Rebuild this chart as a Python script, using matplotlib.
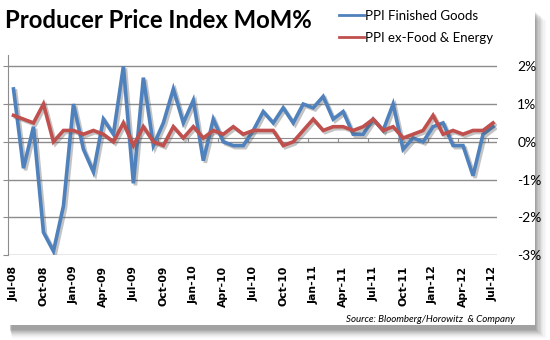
import matplotlib.pyplot as plt
import matplotlib.patheffects as pe
from matplotlib.patches import Rectangle
from matplotlib.lines import Line2D

months = ['Jul-08', 'Aug-08', 'Sep-08', 'Oct-08', 'Nov-08', 'Dec-08',
          'Jan-09', 'Feb-09', 'Mar-09', 'Apr-09', 'May-09', 'Jun-09',
          'Jul-09', 'Aug-09', 'Sep-09', 'Oct-09', 'Nov-09', 'Dec-09',
          'Jan-10', 'Feb-10', 'Mar-10', 'Apr-10', 'May-10', 'Jun-10',
          'Jul-10', 'Aug-10', 'Sep-10', 'Oct-10', 'Nov-10', 'Dec-10',
          'Jan-11', 'Feb-11', 'Mar-11', 'Apr-11', 'May-11', 'Jun-11',
          'Jul-11', 'Aug-11', 'Sep-11', 'Oct-11', 'Nov-11', 'Dec-11',
          'Jan-12', 'Feb-12', 'Mar-12', 'Apr-12', 'May-12', 'Jun-12',
          'Jul-12']

ppi_finished = [1.4, -0.7, 0.4, -2.4, -2.9, -1.7,
                1.0, -0.2, -0.8, 0.6, 0.2, 2.0,
                -1.1, 1.7, -0.1, 0.5, 1.4, 0.5,
                1.1, -0.5, 0.6, 0.0, -0.1, -0.1,
                0.3, 0.8, 0.5, 0.9, 0.5, 1.0,
                0.9, 1.2, 0.6, 0.8, 0.2, 0.2,
                0.6, 0.3, 1.0, -0.2, 0.1, 0.0,
                0.4, 0.5, -0.1, -0.1, -0.9, 0.2,
                0.4]

ppi_core = [0.7, 0.6, 0.5, 1.0, 0.0, 0.3,
            0.3, 0.2, 0.3, 0.2, 0.0, 0.5,
            -0.1, 0.4, 0.0, -0.1, 0.4, 0.1,
            0.4, 0.1, 0.3, 0.2, 0.4, 0.2,
            0.3, 0.3, 0.3, -0.1, 0.0, 0.3,
            0.6, 0.3, 0.4, 0.4, 0.3, 0.4,
            0.6, 0.3, 0.4, 0.1, 0.2, 0.3,
            0.7, 0.2, 0.3, 0.2, 0.3, 0.3,
            0.5]

y_ticks = [-3, -2, -1, 0, 1, 2]
y_labels = ['-3%', '-2%', '-1%', '0%', '1%', '2%']

blue = '#4F81BD'
red = '#C0504D'

fig = plt.figure(figsize=(5.5, 3.4), dpi=100)
fig.patch.set_facecolor('white')

# soft drop shadow around the chart area
for k, a in enumerate([0.10, 0.10, 0.09, 0.08, 0.07, 0.05, 0.04, 0.03, 0.02, 0.01]):
    fig.patches.append(Rectangle((10 / 550 + k * 0.0004, (10 - k) / 340),
                                 (526 + k) / 550, 318 / 340,
                                 transform=fig.transFigure, facecolor='#404040',
                                 alpha=a, edgecolor='none', zorder=0))
fig.patches.append(Rectangle((0, 15 / 340), 535 / 550, 325 / 340,
                             transform=fig.transFigure, facecolor='white',
                             edgecolor='none', zorder=1))

ax = fig.add_axes([7.5 / 550, 1 - 255 / 340, (497 - 7.5) / 550, 200 / 340])
ax.set_facecolor('none')
ax.set_zorder(2)

x = list(range(len(months)))
shadow = [pe.SimpleLineShadow(offset=(1.5, -1.5), shadow_color='#555555', alpha=0.35),
          pe.Normal()]
ax.plot(x, ppi_finished, color=blue, lw=2.6, solid_joinstyle='miter',
        path_effects=shadow, zorder=4)
ax.plot(x, ppi_core, color=red, lw=2.6, solid_joinstyle='miter',
        path_effects=shadow, zorder=5)

ax.set_xlim(-0.6, 48.4)
ax.set_ylim(-3, 2.3)

for yv in y_ticks:
    ax.axhline(yv, color='#8c8c8c', lw=1, zorder=1)

ax.set_yticks(y_ticks)
ax.set_yticklabels(y_labels, fontfamily='Lato', fontsize=10)
ax.tick_params(axis='y', left=True, right=False, labelleft=False, labelright=True,
               direction='out', length=3.5, color='#8c8c8c', pad=11)

# category axis sits just above the zero line, ticks every quarter
ax.spines['bottom'].set_position(('data', 0.1))
ax.spines['bottom'].set_color('#8c8c8c')
ax.spines['left'].set_color('#8c8c8c')
ax.spines['top'].set_visible(False)
ax.spines['right'].set_visible(False)
ax.set_xticks([2.5 + 3 * k for k in range(16)])
ax.tick_params(axis='x', direction='out', length=3, color='#8c8c8c', labelbottom=False)

for i in range(0, len(months), 3):
    ax.text(i, -3.28, months[i], rotation=90, ha='center', va='top',
            fontfamily='DejaVu Sans', fontweight='bold', fontsize=7.8)

fig.text(5 / 550, 1 - 21 / 340, 'Producer Price Index MoM%', fontfamily='Lato',
         fontweight='bold', fontsize=17.2, va='center', ha='left')

handles = [Line2D([], [], color=blue, lw=2), Line2D([], [], color=red, lw=2)]
fig.legend(handles, ['PPI Finished Goods', 'PPI ex-Food & Energy'],
           loc='upper left', bbox_to_anchor=(327 / 550, 1 + 2 / 340),
           frameon=False, prop={'family': 'Lato', 'size': 9.5},
           handlelength=1.9, handletextpad=0.1, labelspacing=0.75)

fig.text(515 / 550, 1 - 320 / 340, 'Source: Bloomberg/Horowitz  & Company',
         fontfamily='Lato', fontstyle='italic', fontsize=7, ha='right', va='center')

fig.savefig('out.png', dpi=100)
